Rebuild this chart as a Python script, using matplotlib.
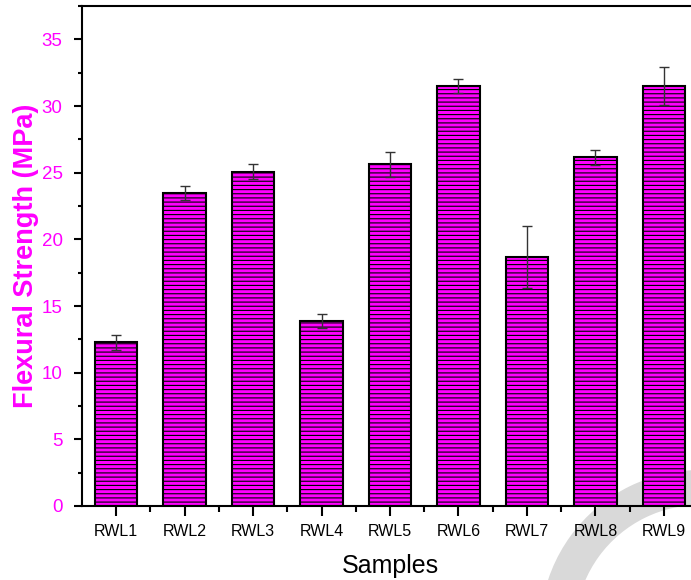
import numpy as np
import matplotlib
matplotlib.use("Agg")
import matplotlib.pyplot as plt
from matplotlib.patches import Wedge
from matplotlib.ticker import FixedLocator, MultipleLocator

# sample names and measured flexural strength (MPa) with std dev
samples = ["RWL1", "RWL2", "RWL3", "RWL4", "RWL5", "RWL6", "RWL7", "RWL8", "RWL9"]
strength = [12.27, 23.48, 25.08, 13.9, 25.63, 31.48, 18.68, 26.15, 31.48]
std_dev = [0.55, 0.54, 0.54, 0.52, 0.92, 0.54, 2.33, 0.56, 1.43]

plt.rcParams['font.family'] = ['Liberation Sans', 'DejaVu Sans']
plt.rcParams['hatch.linewidth'] = 0.8

fig = plt.figure(figsize=(6.91, 5.80), dpi=100)

# faint grey watermark arc in the lower right corner (behind everything)
arc = Wedge((7.00, -0.50), 1.60, 88, 200, width=0.35, transform=fig.dpi_scale_trans,
            facecolor="#d9d9d9", edgecolor="none", zorder=0)
fig.patches.append(arc)

ax = fig.add_axes([0.1187, 0.1276, 0.8915, 0.862])
ax.set_zorder(1)
ax.patch.set_alpha(0)

x = np.arange(1, len(samples) + 1)
ax.bar(x, strength, width=0.62, color="#ff00ff", edgecolor="black", linewidth=1.5,
       hatch="----", zorder=2)
ax.errorbar(x, strength, yerr=std_dev, fmt="none", ecolor="#333333", elinewidth=1.0,
            capsize=3.5, capthick=1.0, zorder=3)

ax.set_xlim(0.5, 9.5)
ax.set_ylim(0, 37.5)

ax.set_xticks(x)
ax.set_xticklabels(samples)
ax.xaxis.set_minor_locator(FixedLocator(x[:-1] + 0.5))
ax.yaxis.set_major_locator(MultipleLocator(5))
ax.yaxis.set_minor_locator(MultipleLocator(2.5))

ax.tick_params(axis="x", which="major", direction="out", length=7, width=1.5,
               labelsize=11.5, pad=6, colors="black")
ax.tick_params(axis="x", which="minor", direction="out", length=4, width=1.5)
ax.tick_params(axis="y", which="major", direction="out", length=6, width=1.5,
               labelsize=13.5, pad=8, labelcolor="#ff00ff")
ax.tick_params(axis="y", which="minor", direction="out", length=3, width=1.5)

for side in ["left", "bottom", "top", "right"]:
    ax.spines[side].set_linewidth(1.5)

ax.set_xlabel("Samples", fontsize=18, labelpad=11)
ax.set_ylabel("Flexural Strength (MPa)", fontsize=19.5, fontweight="bold",
              color="#ff00ff", labelpad=2)

fig.savefig("out.png", dpi=100)
